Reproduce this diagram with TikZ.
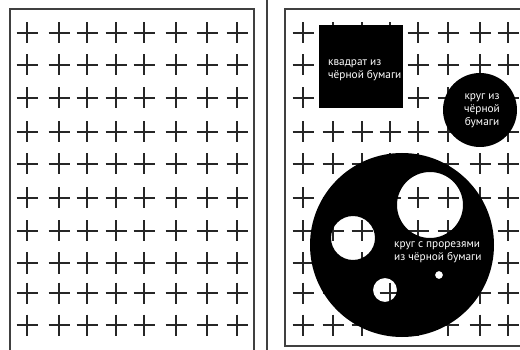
\documentclass[tikz,border=0pt]{standalone}
\usepackage{fontspec}
\setmainfont{PT Sans}
\begin{document}
\begin{tikzpicture}[x=1pt,y=-1pt,
  frame/.style={draw=black!75,line width=1.4pt},
  crossmark/.style={draw=black!85,line width=1.7pt},
  paper/.style={fill=black,draw=none},
  label/.style={text=white,font=\fontsize{11.3}{13}\selectfont,inner sep=0pt}]
\useasboundingbox (0,0) rectangle (520,350);
% frames
\draw[frame] (10,351) -- (10,9) -- (254,9) -- (254,351);
\draw[frame] (267,-1) -- (267,351);
\draw[frame] (530,346) -- (285,346) -- (285,9) -- (530,9);
% crosses
\foreach \y in {33,65,98,132,164,198,231,263,293,325}{
  \foreach \x in {27,59,87,116,144,176,207,237,303,333,362,390,418,448,480,508}{
    \draw[crossmark] (\x-10.5,\y) -- (\x+10.5,\y) (\x,\y-10.5) -- (\x,\y+10.5);
  }
}
% black square
\node[paper,minimum width=84pt,minimum height=83pt,inner sep=0pt] (sq) at (361,66.5) {};
\node[label,align=left,anchor=west] (sqt) at (328,70.5) {квадрат из\\чёрной бумаги};
% small black circle
\node[paper,circle,minimum size=74pt,inner sep=0pt] (sc) at (480,110) {};
\node[label,align=center] (sct) at (482,111) {круг из\\чёрной\\бумаги};
% big circle with holes
\fill[black,even odd rule] (402,245) circle (92)
  (430,205) circle (33)
  (353,238) circle (22)
  (385,290) circle (12)
  (439,275) circle (4);
\coordinate (bc) at (402,245);
\node[label,align=left,anchor=west] (bct) at (394,252) {круг с прорезями\\из чёрной бумаги};
\end{tikzpicture}
\end{document}
